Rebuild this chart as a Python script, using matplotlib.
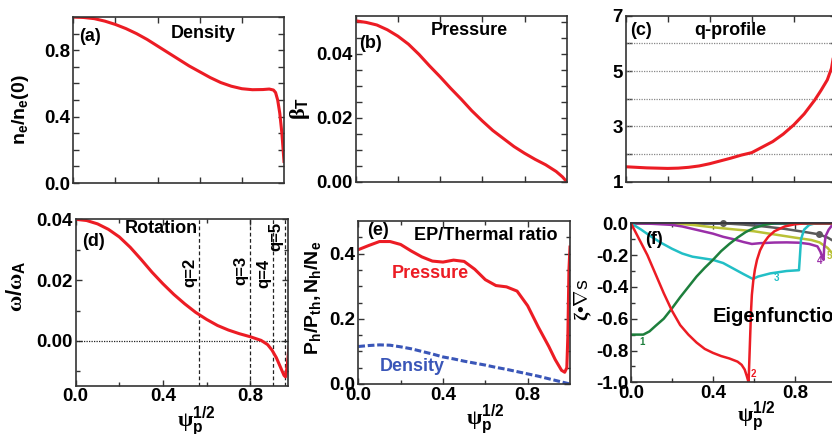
import matplotlib
matplotlib.use('Agg')
import matplotlib.pyplot as plt
from matplotlib.ticker import FixedLocator, FormatStrFormatter, NullFormatter

plt.rcParams['font.family'] = ['Liberation Sans', 'DejaVu Sans']
plt.rcParams['font.weight'] = 'bold'
plt.rcParams['axes.unicode_minus'] = False
plt.rcParams['mathtext.fontset'] = 'custom'
plt.rcParams['mathtext.rm'] = 'Liberation Serif'
plt.rcParams['mathtext.it'] = 'Liberation Serif:italic'
plt.rcParams['mathtext.bf'] = 'Liberation Sans:bold'
plt.rcParams['mathtext.sf'] = 'Liberation Sans:bold'
plt.rcParams['mathtext.default'] = 'bf'

# ---------------- data ----------------
# (a) density
psi_a = [0, 0.05, 0.1, 0.15, 0.2, 0.25, 0.3, 0.35, 0.4, 0.45, 0.5, 0.55, 0.6, 0.65, 0.7,
         0.75, 0.8, 0.85, 0.9, 0.93, 0.95, 0.96, 0.97, 0.98, 0.99, 1.0]
ne_ratio = [1.0, 0.997, 0.99, 0.975, 0.955, 0.93, 0.9, 0.865, 0.825, 0.785, 0.745, 0.705,
            0.67, 0.635, 0.605, 0.583, 0.568, 0.562, 0.563, 0.566, 0.56, 0.545, 0.5, 0.42,
            0.3, 0.13]
# (b) pressure
psi_b = [0, 0.05, 0.1, 0.15, 0.2, 0.25, 0.3, 0.35, 0.4, 0.45, 0.5, 0.55, 0.6, 0.65, 0.7,
         0.75, 0.8, 0.85, 0.9, 0.95, 0.98, 1.0]
beta_t = [0.0503, 0.0498, 0.049, 0.0475, 0.0455, 0.043, 0.0398, 0.0362, 0.0328, 0.0292,
          0.0258, 0.0222, 0.019, 0.016, 0.0135, 0.011, 0.0089, 0.007, 0.0053, 0.0032,
          0.0015, 0.0]
# (c) q-profile
psi_c = [0, 0.05, 0.1, 0.15, 0.2, 0.25, 0.3, 0.35, 0.4, 0.45, 0.5, 0.55, 0.6, 0.65, 0.7,
         0.75, 0.8, 0.85, 0.9, 0.93, 0.96, 0.98, 1.0]
q_prof = [1.54, 1.52, 1.5, 1.49, 1.48, 1.49, 1.52, 1.57, 1.65, 1.75, 1.85, 1.96, 2.05,
          2.25, 2.45, 2.72, 3.05, 3.45, 3.95, 4.3, 4.68, 5.1, 6.0]
q_grid = [2, 3, 4, 5, 6]
# (d) rotation
psi_d = [0, 0.05, 0.1, 0.15, 0.2, 0.25, 0.3, 0.35, 0.4, 0.45, 0.5, 0.55, 0.6, 0.65, 0.7,
         0.75, 0.8, 0.85, 0.88, 0.9, 0.92, 0.94, 0.955, 0.962, 0.97, 0.978]
omega = [0.040, 0.0396, 0.0385, 0.0367, 0.0342, 0.0308, 0.0268, 0.0226, 0.0188, 0.0153,
         0.0122, 0.0094, 0.0071, 0.0051, 0.0036, 0.0024, 0.0014, 0.0002, -0.0012, -0.0030,
         -0.0055, -0.0088, -0.0113, -0.0118, -0.008, -0.002]
q_surf_labels = ['q=2', 'q=3', 'q=4', 'q=5']
q_surf_psi = [0.567, 0.80, 0.906, 0.96]
# (e) EP / thermal ratio
psi_ep = [0, 0.05, 0.1, 0.15, 0.2, 0.25, 0.3, 0.35, 0.4, 0.45, 0.5, 0.55, 0.6, 0.65, 0.7,
          0.75, 0.8, 0.85, 0.9, 0.93, 0.96, 0.975, 0.985, 0.99, 0.995, 1.0]
p_ratio = [0.412, 0.425, 0.437, 0.437, 0.428, 0.408, 0.39, 0.377, 0.374, 0.38, 0.376,
           0.352, 0.32, 0.302, 0.298, 0.285, 0.24, 0.175, 0.115, 0.075, 0.042, 0.036,
           0.05, 0.15, 0.35, 0.42]
psi_en = [0, 0.05, 0.1, 0.15, 0.2, 0.25, 0.3, 0.35, 0.4, 0.45, 0.5, 0.55, 0.6, 0.65, 0.7,
          0.75, 0.8, 0.85, 0.9, 0.95, 1.0]
n_ratio = [0.115, 0.118, 0.12, 0.119, 0.114, 0.108, 0.1, 0.092, 0.083, 0.077, 0.07, 0.064,
           0.058, 0.051, 0.045, 0.038, 0.031, 0.024, 0.016, 0.008, 0.0]
# (f) eigenfunctions
psi_m1 = [0, 0.03, 0.06, 0.09, 0.12, 0.16, 0.2, 0.24, 0.28, 0.32, 0.36, 0.4, 0.44, 0.48,
          0.52, 0.56, 0.6, 0.65, 0.7, 0.8, 0.9, 1.0]
xi_m1 = [-0.70, -0.70, -0.70, -0.68, -0.645, -0.6, -0.535, -0.465, -0.4, -0.335, -0.28,
         -0.23, -0.175, -0.13, -0.09, -0.055, -0.03, -0.01, 0, 0, 0, 0]
psi_m2 = [0, 0.04, 0.08, 0.12, 0.16, 0.2, 0.24, 0.28, 0.32, 0.36, 0.4, 0.44, 0.48, 0.52,
          0.54, 0.555, 0.565, 0.574, 0.578, 0.582, 0.586, 0.59, 0.597, 0.605, 0.615, 0.63,
          0.65, 0.67, 0.7, 0.75, 0.8, 0.85, 1.0]
xi_m2 = [0, -0.1, -0.2, -0.32, -0.44, -0.55, -0.64, -0.7, -0.75, -0.79, -0.815, -0.835,
         -0.85, -0.87, -0.89, -0.92, -0.96, -1.0, -0.85, -0.7, -0.55, -0.45, -0.36, -0.29,
         -0.23, -0.17, -0.12, -0.085, -0.05, -0.02, -0.006, 0, 0]
psi_m3 = [0, 0.05, 0.1, 0.15, 0.2, 0.25, 0.3, 0.35, 0.4, 0.45, 0.5, 0.55, 0.595, 0.62,
          0.68, 0.76, 0.82, 0.825, 0.83, 0.845, 0.87, 0.9, 1.0]
xi_m3 = [0, -0.04, -0.085, -0.125, -0.16, -0.19, -0.21, -0.22, -0.23, -0.25, -0.285,
         -0.32, -0.35, -0.335, -0.315, -0.3, -0.295, -0.2, -0.1, -0.04, -0.01, 0, 0]
psi_m4 = [0, 0.1, 0.2, 0.25, 0.3, 0.35, 0.4, 0.45, 0.5, 0.55, 0.59, 0.63, 0.7, 0.76, 0.82,
          0.87, 0.91, 0.925, 0.935, 0.94, 0.943, 0.95, 0.965, 0.98, 1.0]
xi_m4 = [0, -0.003, -0.01, -0.02, -0.035, -0.05, -0.065, -0.085, -0.1, -0.118, -0.13,
         -0.125, -0.121, -0.12, -0.122, -0.13, -0.145, -0.18, -0.22, -0.23, -0.15, -0.08,
         -0.04, -0.015, 0]
psi_m5 = [0, 0.2, 0.3, 0.4, 0.5, 0.6, 0.7, 0.8, 0.88, 0.92, 0.96, 0.98, 0.99, 1.0]
xi_m5 = [0, 0, -0.01, -0.025, -0.038, -0.05, -0.07, -0.09, -0.105, -0.12, -0.155, -0.185,
         -0.2, -0.21]
psi_m6 = [0, 0.45, 0.55, 0.65, 0.75, 0.85, 0.92, 0.96, 0.98, 1.0]
xi_m6 = [0, 0, -0.008, -0.02, -0.035, -0.055, -0.07, -0.09, -0.105, -0.12]
psi_m6_dots = [0.45, 0.92]
xi_m6_dots = [0, -0.07]
psi_m7 = [0, 1.0]
xi_m7 = [0, 0]
mode_labels = ['1', '2', '3', '4', '5']
mode_label_psi = [0.04, 0.585, 0.695, 0.905, 0.955]
mode_label_xi = [-0.745, -0.95, -0.345, -0.235, -0.205]

# ticks
xt_major = [0.0, 0.4, 0.8]
xt_minor = [0.2, 0.6]
yt_a = [0.0, 0.4, 0.8]; ym_a = [0.1, 0.2, 0.3, 0.5, 0.6, 0.7, 0.9, 1.0]
yt_b = [0.0, 0.02, 0.04]; ym_b = [0.005, 0.01, 0.015, 0.025, 0.03, 0.035, 0.045, 0.05]
yt_c = [1, 3, 5, 7]; ym_c = [2, 4, 6]
yt_d = [0.0, 0.02, 0.04]; ym_d = [-0.01, 0.01, 0.03]
yt_e = [0.0, 0.2, 0.4]; ym_e = [0.05, 0.1, 0.15, 0.25, 0.3, 0.35, 0.45]
yt_f = [0.0, -0.2, -0.4, -0.6, -0.8, -1.0]; ym_f = [-0.1, -0.3, -0.5, -0.7, -0.9]

RED = '#ec1c24'
BLUE = '#3a56b8'
W, H = 832, 434
TICK_FS = 13.5

fig = plt.figure(figsize=(W / 100, H / 100), dpi=100)


def add_ax(l, r, t, b):
    return fig.add_axes([l / W, (H - b) / H, (r - l) / W, (b - t) / H])


def style(ax, xlim, ylim, yt, ym, yfmt, xlabels):
    ax.set_xlim(*xlim)
    ax.set_ylim(*ylim)
    ax.xaxis.set_major_locator(FixedLocator(xt_major))
    ax.xaxis.set_minor_locator(FixedLocator(xt_minor))
    ax.yaxis.set_major_locator(FixedLocator(yt))
    ax.yaxis.set_minor_locator(FixedLocator(ym))
    ax.yaxis.set_major_formatter(FormatStrFormatter(yfmt))
    if xlabels:
        ax.xaxis.set_major_formatter(FormatStrFormatter('%.1f'))
    else:
        ax.xaxis.set_major_formatter(NullFormatter())
    ax.tick_params(which='both', direction='in', top=True, right=True, width=1,
                   labelsize=TICK_FS, pad=2, color='#333333')
    ax.tick_params(which='major', length=4)
    ax.tick_params(which='minor', length=3 if xlabels else 4)
    for s in ax.spines.values():
        s.set_linewidth(1.2)
        s.set_color('#333333')


def xlab(ax, x):
    ax.text(x, -0.245, r'$\mathrm{\psi}_p^{1/2}$', transform=ax.transAxes,
            ha='center', va='baseline', fontsize=16)


TXT = dict(fontsize=13, fontweight='bold')

# (a)
ax = add_ax(73.3, 284, 16.5, 183)
ax.plot(psi_a, ne_ratio, color=RED, lw=2.2)
style(ax, (0, 1.0), (0, 1.003), yt_a, ym_a, '%.1f', False)
ax.set_ylabel(r'$n_e/n_e(0)$', fontsize=14)
ax.yaxis.set_label_coords(-0.2, 0.44)
ax.text(0.077, 0.88, '(a)', transform=ax.transAxes, ha='center', va='center', **TXT)
ax.text(0.615, 0.898, 'Density', transform=ax.transAxes, ha='center', va='center', **TXT)

# (b)
ax = add_ax(355.7, 566.7, 15.7, 181.7)
ax.plot(psi_b, beta_t, color=RED, lw=2.2)
style(ax, (0, 1.0), (0, 0.0519), yt_b, ym_b, '%.2f', False)
ax.set_ylabel(r'$\mathrm{\beta}_T$', fontsize=16)
ax.yaxis.set_label_coords(-0.205, 0.44)
ax.text(0.068, 0.83, '(b)', transform=ax.transAxes, ha='center', va='center', **TXT)
ax.text(0.539, 0.911, 'Pressure', transform=ax.transAxes, ha='center', va='center', **TXT)

# (c)
ax = add_ax(625.7, 835.7, 15.7, 181.7)
for qv in q_grid:
    ax.axhline(qv, color='#888888', lw=0.9, ls=(0, (1, 1)))
ax.plot(psi_c, q_prof, color=RED, lw=2.2)
style(ax, (0, 1.0), (1, 7), yt_c, ym_c, '%d', False)
ax.text(0.073, 0.911, '(c)', transform=ax.transAxes, ha='center', va='center', **TXT)
ax.text(0.497, 0.911, 'q-profile', transform=ax.transAxes, ha='center', va='center', **TXT)

# (d)
ax = add_ax(75.7, 287.7, 219.3, 385.7)
ax.axhline(0, color='#222222', lw=0.9, ls=(0, (1, 1)))
for lab, qx in zip(q_surf_labels, q_surf_psi):
    ax.axvline(qx, color='#222222', lw=0.9, ls=(0, (3, 2)))
ax.plot(psi_d, omega, color=RED, lw=2.2)
style(ax, (0, 0.972), (-0.0147, 0.04), yt_d, ym_d, '%.2f', True)
ax.set_ylabel(r'$\mathrm{\omega}/\mathrm{\omega}_A$', fontsize=16)
ax.yaxis.set_label_coords(-0.225, 0.6)
xlab(ax, 0.57)
ax.text(0.086, 0.867, '(d)', transform=ax.transAxes, ha='center', va='center', **TXT)
ax.text(0.405, 0.945, 'Rotation', transform=ax.transAxes, ha='center', va='center', **TXT)
q_lab_y = [0.683, 0.69, 0.674, 0.897]
for lab, qx, yy in zip(q_surf_labels, q_surf_psi, q_lab_y):
    ax.annotate(lab, xy=(qx, yy), xycoords=('data', 'axes fraction'), xytext=(-1.5, 0),
                textcoords='offset points', rotation=90, ha='right', va='center',
                fontsize=12, fontweight='bold')

# (e)
ax = add_ax(358.3, 570, 221, 384)
ax.plot(psi_ep, p_ratio, color=RED, lw=2.2)
ax.plot(psi_en, n_ratio, color=BLUE, lw=2.2, ls=(0, (2.2, 0.9)))
style(ax, (0, 1.0), (0, 0.5), yt_e, ym_e, '%.1f', True)
ax.set_ylabel(r'$P_h/P_{th}, N_h/N_e$', fontsize=14)
ax.yaxis.set_label_coords(-0.167, 0.53)
xlab(ax, 0.6)
ax.text(0.091, 0.94, '(e)', transform=ax.transAxes, ha='center', va='center', **TXT)
ax.text(0.603, 0.911, 'EP/Thermal ratio', transform=ax.transAxes, ha='center', va='center', **TXT)
ax.text(0.341, 0.34, 'Pressure', color=RED, ha='center', va='center', **TXT)
ax.text(0.256, 0.055, 'Density', color=BLUE, ha='center', va='center', **TXT)

# (f)
ax = add_ax(631, 842, 223.3, 382.3)
ax.plot(psi_m7, xi_m7, color='#1f2a80', lw=1.8, clip_on=False)
ax.plot(psi_m6, xi_m6, color='#5a5a5a', lw=1.8)
ax.plot(psi_m6_dots, xi_m6_dots, 'o', color='#5a5a5a', ms=4, clip_on=False)
ax.plot(psi_m5, xi_m5, color='#b9c136', lw=1.8)
ax.plot(psi_m4, xi_m4, color='#9a2fa8', lw=1.8)
ax.plot(psi_m3, xi_m3, color='#22bfc6', lw=1.8)
ax.plot(psi_m1, xi_m1, color='#1d7f3c', lw=1.8)
ax.plot(psi_m2, xi_m2, color=RED, lw=1.8)
mode_colors = ['#1d7f3c', RED, '#22bfc6', '#9a2fa8', '#b9c136']
for lab, px, py, c in zip(mode_labels, mode_label_psi, mode_label_xi, mode_colors):
    ax.text(px, py, lab, color=c, fontsize=7, fontweight='bold', ha='left', va='center')
style(ax, (0, 1.03), (-1.0, 0.0), yt_f, ym_f, '%.1f', True)
ax.set_ylabel('$\\mathrm{\\zeta}$\u2022$\\nabla$s', fontsize=14)
ax.yaxis.set_label_coords(-0.175, 0.52)
xlab(ax, 0.595)
ax.text(0.107, 0.895, '(f)', transform=ax.transAxes, ha='center', va='center', **TXT)
ax.text(0.40, -0.585, 'Eigenfunction', ha='left', va='center', fontsize=14.5, fontweight='bold')

fig.savefig('out.png', dpi=100)
